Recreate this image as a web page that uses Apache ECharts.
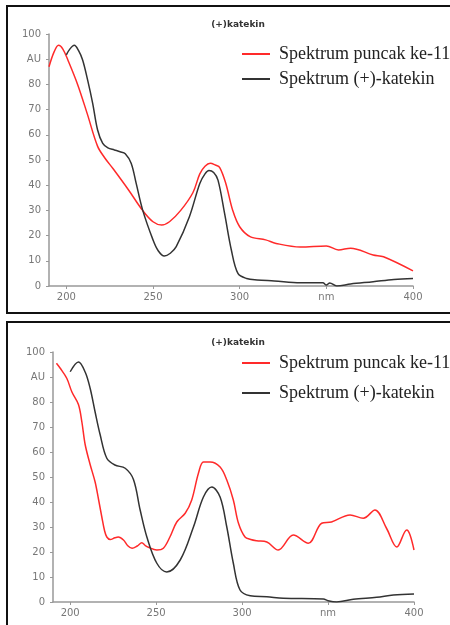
<!DOCTYPE html>
<html><head><meta charset="utf-8">
<script src="https://cdn.jsdelivr.net/npm/echarts@6/dist/echarts.min.js"></script>
<style>html,body{margin:0;padding:0;background:#fff}#c{width:450px;height:625px}</style>
</head><body><div id="c"></div>
<script>
const chartTitle = "(+)katekin";
const seriesNames = ["Spektrum puncak ke-11", "Spektrum (+)-katekin"];
const xTickValues = [200, 250, 300, 350, 400];
const xTickLabels = ["200", "250", "300", "nm", "400"];
const yTickLabelMap = {90: "AU"};

// Top panel
const topRedX = [190,193,195.5,198,201,206.5,212,218,222,227,236,244,250,255,259.5,266,273,277,280,283,286,288.5,292,296,300,306,315,321,335,350,357,364,377,383,400];
const topRedY = [87,93,95.5,94,89.5,80,68.5,55.5,51,46.5,38,30,25.5,24.2,25.5,30,37,44.5,47.5,48.7,48,47,40.7,30,23.5,19.6,18.3,16.9,15.5,15.9,14.3,15,12.3,11.6,6];
const topBlackX = [200,202,204.6,207,209.4,212.3,215.2,218,221,224,227.7,231,234,237.4,240.3,244,250,253,256.5,260,263.4,271,277,280,282.3,285,287.5,291.3,295.2,299,304,310,320,335,348,350,352,356,364,377,389,400];
const topBlackY = [91.7,94,95.5,93.5,89.7,81.7,72.5,62,56.6,54.8,54,53.3,52.5,48.7,40.7,30.2,18.3,14,11.9,13,15.6,27.5,40.7,44.5,45.8,45,42,28.8,14.3,5,3,2.4,2,1.3,1.3,0.4,1.2,0,0.8,1.7,2.6,3];

// Bottom panel
const botRedX = [192,194.2,198,201,204.8,206.8,208.7,211.6,214.5,216.5,218.4,220,221.3,223.3,226,228,231,233.5,236,239,241.7,243.5,245.5,250.4,254.2,258,262,266.9,270.7,274.6,277.5,281.4,287.2,291.1,294.9,297.9,301.7,305,308.5,314.4,321,329.8,338.5,346.3,352,362.8,370.5,377.3,384,390,395.8,397.7,400];
const botRedY = [95.5,93.5,89.5,84,79,72,63,55,48,41,34,28.5,26,25,25.7,26,24.8,22.5,21.5,22.4,23.7,22.7,21.9,20.8,21.5,26,32,35.5,40.8,51.5,56,56,54,48.8,40.8,31.5,26,25,24.5,24,20.8,26.8,23.5,31.5,32,34.8,33.5,36.8,29.5,22,28.8,26.8,20.8];
const botBlackX = [200,204.8,208.7,211.6,214.5,217.4,221.3,226,232,236.8,240.7,244.6,250.4,256.2,264,271.7,277.5,282.4,287.2,291.1,294.9,298.8,304.7,314.4,324,347.3,350,355,364.7,378.3,388,400];
const botBlackY = [92.1,96,92,85.5,76,67,57.5,54.8,53.5,49,36.8,26,15.5,12,16.8,30,42,46,42,30,15.5,4.8,2.5,2.1,1.5,1.2,0.5,0,1.1,1.9,2.8,3.2];

const zip = (xs, ys) => xs.map((x, i) => [x, ys[i]]);
const RED = '#ff2a2a', BLACK = '#333333';
const labelFont = {color: '#777', fontSize: 10, fontFamily: 'DejaVu Sans'};

function xAxis(gi) {
  return {
    gridIndex: gi, type: 'value', min: 190, max: 400,
    axisLine: {lineStyle: {color: '#999', width: 1.5}},
    axisTick: {customValues: xTickValues, length: 3, lineStyle: {color: '#999'}},
    axisLabel: Object.assign({customValues: xTickValues, margin: 6,
      formatter: v => xTickLabels[xTickValues.indexOf(v)]}, labelFont),
    splitLine: {show: false}
  };
}
function yAxis(gi) {
  return {
    gridIndex: gi, type: 'value', min: 0, max: 100, interval: 10,
    axisLine: {show: true, lineStyle: {color: '#999', width: 1.5}},
    axisTick: {show: true, length: 3, lineStyle: {color: '#999'}},
    axisLabel: Object.assign({margin: 8, formatter: v => yTickLabelMap[v] || String(v)}, labelFont),
    splitLine: {show: false}
  };
}
function line(name, data, color, gi) {
  return {name, type: 'line', xAxisIndex: gi, yAxisIndex: gi, data, symbol: 'none',
    smooth: 0.35, lineStyle: {color, width: 1.5}, itemStyle: {color}, animation: false};
}
function legend(top, gap) {
  return {orient: 'vertical', left: 242, top, padding: 0, itemGap: gap, itemWidth: 28, itemHeight: 2,
    icon: 'rect', data: seriesNames, selectedMode: false,
    textStyle: {fontFamily: 'Liberation Serif', fontSize: 18, color: '#222', lineHeight: 18, padding: [0, 0, 0, 4]}};
}

const chart = echarts.init(document.getElementById('c'), null, {renderer: 'canvas'});
chart.setOption({
  animation: false,
  backgroundColor: '#fff',
  title: [
    {text: chartTitle, left: 233, top: 15, textAlign: 'center',
      textStyle: {fontSize: 9, fontWeight: 'bold', color: '#333', fontFamily: 'DejaVu Sans'}},
    {text: chartTitle, left: 233, top: 333, textAlign: 'center',
      textStyle: {fontSize: 9, fontWeight: 'bold', color: '#333', fontFamily: 'DejaVu Sans'}}
  ],
  legend: [legend(45, 7), legend(354, 12)],
  grid: [
    {left: 49, top: 34, width: 364, height: 252},
    {left: 53, top: 352, width: 361, height: 250}
  ],
  xAxis: [xAxis(0), xAxis(1)],
  yAxis: [yAxis(0), yAxis(1)],
  series: [
    line(seriesNames[0], zip(topRedX, topRedY), RED, 0),
    line(seriesNames[1], zip(topBlackX, topBlackY), BLACK, 0),
    line(seriesNames[0], zip(botRedX, botRedY), RED, 1),
    line(seriesNames[1], zip(botBlackX, botBlackY), BLACK, 1)
  ],
  graphic: [
    {type: 'rect', shape: {x: 7, y: 6, width: 460, height: 307}, silent: true,
      style: {fill: 'none', stroke: '#111', lineWidth: 2}},
    {type: 'rect', shape: {x: 7, y: 322, width: 460, height: 320}, silent: true,
      style: {fill: 'none', stroke: '#111', lineWidth: 2}}
  ]
});
</script></body></html>
